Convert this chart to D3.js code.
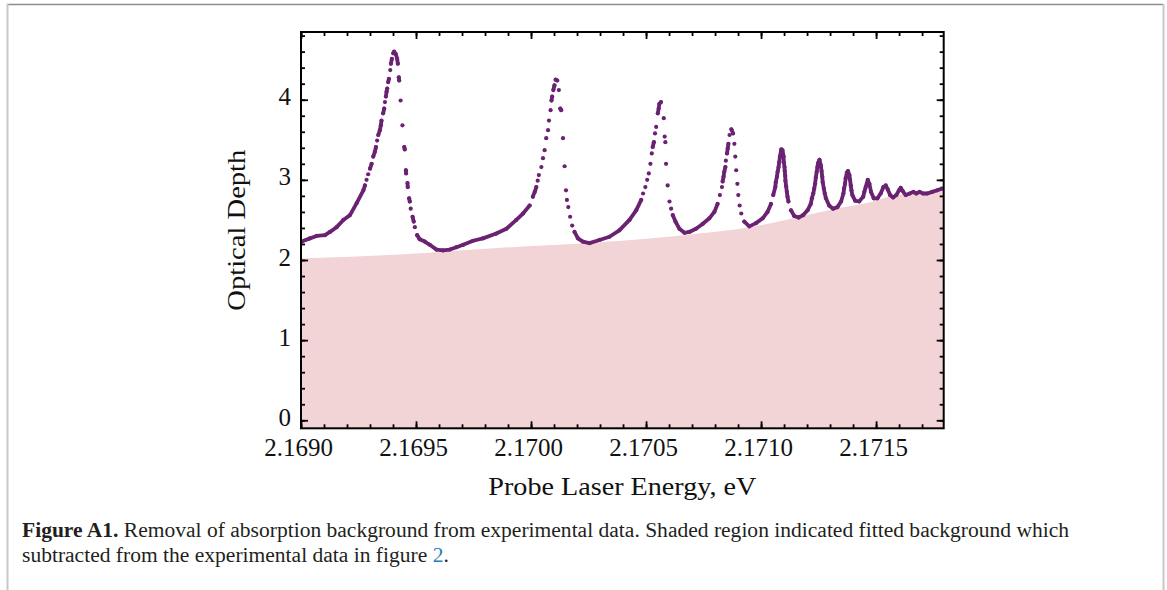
<!DOCTYPE html>
<html><head><meta charset="utf-8">
<script src="https://cdn.jsdelivr.net/npm/d3@7"></script>
<style>body{margin:0;background:#fff;} svg{display:block;}</style>
</head><body>
<svg id="chart" width="1167" height="590"></svg>
<script>
const energy = [
2.169003,2.169039,2.169068,2.169104,2.169126,2.169155,2.169184,2.169213,2.169242,2.169271,
2.169278,2.169285,2.169292,2.169300,2.169307,2.169314,2.169321,2.169326,2.169331,2.169336,
2.169343,2.169347,2.169350,2.169357,2.169362,2.169365,2.169369,2.169372,2.169375,2.169379,
2.169382,2.169388,2.169391,2.169395,2.169401,2.169405,2.169412,2.169418,2.169421,2.169425,
2.169427,2.169433,2.169441,2.169449,2.169451,2.169456,2.169457,2.169463,2.169464,2.169470,
2.169473,2.169477,2.169485,2.169490,2.169495,2.169505,2.169516,2.169538,2.169560,2.169589,
2.169618,2.169647,2.169676,2.169705,2.169748,2.169791,2.169849,2.169893,2.169936,2.169965,
2.169994,2.170008,2.170016,2.170023,2.170029,2.170034,2.170045,2.170052,2.170059,2.170066,
2.170074,2.170078,2.170085,2.170089,2.170092,2.170097,2.170102,2.170107,2.170114,2.170121,
2.170127,2.170131,2.170139,2.170146,2.170152,2.170156,2.170162,2.170170,2.170179,2.170189,
2.170204,2.170225,2.170254,2.170298,
2.170341,2.170384,2.170428,2.170457,2.170479,2.170487,2.170497,2.170505,2.170512,2.170519,
2.170525,2.170529,2.170534,2.170539,2.170544,2.170551,2.170555,2.170558,2.170565,2.170577,
2.170581,2.170584,2.170587,2.170594,2.170602,2.170609,2.170616,2.170628,2.170645,2.170667,
2.170688,2.170717,2.170746,2.170775,2.170797,2.170811,2.170821,2.170830,2.170833,2.170837,
2.170840,2.170845,2.170847,2.170852,2.170855,2.170858,2.170863,2.170871,2.170878,2.170884,
2.170888,2.170892,2.170897,2.170901,2.170907,2.170914,2.170927,2.170949,2.170978,2.171007,
2.171028,2.171043,2.171053,2.171062,2.171064,2.171069,2.171072,2.171076,2.171079,2.171082,
2.171088,2.171093,2.171098,2.171099,2.171102,2.171103,2.171105,2.171106,2.171109,2.171112,
2.171115,2.171119,2.171130,2.171144,2.171163,2.171183,2.171202,2.171216,2.171221,2.171227,
2.171231,2.171235,2.171238,2.171242,2.171245,2.171248,2.171254,2.171260,2.171263,2.171266,
2.171268,2.171273,2.171277,2.171282,2.171296,2.171313,2.171332,2.171348,2.171358,2.171361,
2.171365,2.171368,2.171373,2.171378,2.171384,2.171387,2.171390,2.171393,2.171397,2.171409,
2.171426,2.171444,2.171449,2.171455,2.171464,2.171471,2.171478,2.171490,2.171506,2.171520,
2.171532,2.171542,2.171551,2.171561,2.171574,2.171588,2.171600,2.171607,2.171616,2.171629,
2.171646,2.171662,2.171675,2.171689,2.171704,2.171723,2.171744,2.171766,2.171785
];
const depth = [
2.23,2.27,2.30,2.31,2.35,2.41,2.50,2.56,2.71,2.87,
2.93,3.00,3.07,3.14,3.20,3.29,3.35,3.41,3.49,3.56,
3.62,3.68,3.74,3.83,3.89,3.97,4.04,4.10,4.14,4.22,
4.26,4.37,4.45,4.51,4.58,4.60,4.57,4.51,4.45,4.28,
4.24,3.99,3.68,3.41,3.38,3.12,3.08,2.96,2.91,2.77,
2.73,2.64,2.54,2.48,2.41,2.31,2.26,2.23,2.19,2.13,
2.12,2.13,2.16,2.19,2.24,2.27,2.33,2.39,2.50,2.58,
2.68,2.79,2.85,2.91,2.99,3.06,3.16,3.27,3.37,3.52,
3.62,3.74,3.87,3.99,4.04,4.12,4.18,4.25,4.24,4.12,
3.89,3.87,3.52,3.17,2.87,2.75,2.66,2.54,2.43,2.35,
2.27,2.23,2.21,2.25,
2.29,2.37,2.50,2.62,2.75,2.83,2.91,3.00,3.08,3.20,
3.33,3.41,3.47,3.58,3.66,3.83,3.89,3.95,3.97,3.77,
3.54,3.47,3.20,2.93,2.73,2.64,2.56,2.48,2.39,2.34,
2.35,2.39,2.45,2.52,2.60,2.70,2.81,2.91,2.98,3.04,
3.10,3.16,3.24,3.33,3.39,3.45,3.56,3.63,3.58,3.45,
3.29,3.12,2.95,2.81,2.68,2.58,2.48,2.42,2.46,2.52,
2.60,2.70,2.81,2.91,2.97,3.04,3.10,3.16,3.22,3.29,
3.38,3.37,3.29,3.22,3.16,3.11,3.05,2.99,2.92,2.85,
2.79,2.73,2.62,2.55,2.53,2.56,2.62,2.70,2.77,2.83,
2.89,2.95,3.03,3.10,3.16,3.21,3.25,3.18,3.11,3.04,
2.97,2.89,2.83,2.77,2.68,2.64,2.66,2.73,2.83,2.89,
2.95,3.02,3.09,3.11,3.06,3.00,2.93,2.87,2.81,2.74,
2.73,2.79,2.85,2.91,3.00,2.95,2.85,2.77,2.77,2.83,
2.91,2.93,2.88,2.81,2.78,2.81,2.87,2.90,2.86,2.81,
2.83,2.85,2.83,2.85,2.83,2.83,2.85,2.87,2.89
];
// Fitted background (shaded)
const bgEnergy = [2.16900,2.16943,2.16986,2.17030,2.17073,2.17095,2.17117,2.17131,2.17146,2.17157,2.17180];
const bgDepth  = [2.02,2.07,2.15,2.22,2.33,2.41,2.54,2.63,2.71,2.80,2.87];

const xMajorTicks = [2.1690,2.1695,2.1700,2.1705,2.1710,2.1715];
const xTickLabels = ["2.1690","2.1695","2.1700","2.1705","2.1710","2.1715"];
const yMajorTicks = [0,1,2,3,4];
const yTickLabels = ["0","1","2","3","4"];
const xLabel = "Probe Laser Energy, eV";
const yLabel = "Optical Depth";

const svg = d3.select("#chart");
const L = 301, R = 943.7, T = 32, B = 428.3;
const x = d3.scaleLinear().domain([2.1690, 2.171794]).range([L, R]);
const y = d3.scaleLinear().domain([-0.1, 4.845]).range([B, T]);
const purple = "#6b2272", pink = "#f2d3d6";
const serif = "'Liberation Serif','Times New Roman',serif";

// page frame
svg.append("line").attr("x1",7).attr("x2",1163.5).attr("y1",4.5).attr("y2",4.5).attr("stroke","#8c8c8c").attr("stroke-width",1.5);
svg.append("line").attr("x1",7.5).attr("x2",7.5).attr("y1",4).attr("y2",590).attr("stroke","#c8c8c8").attr("stroke-width",2);
svg.append("line").attr("x1",1163.5).attr("x2",1163.5).attr("y1",4).attr("y2",590).attr("stroke","#c8c8c8").attr("stroke-width",2);

svg.append("defs").append("clipPath").attr("id","clip").append("rect")
  .attr("x",L).attr("y",T).attr("width",R-L).attr("height",B-T);
const plot = svg.append("g").attr("clip-path","url(#clip)");

// background area
const bg = bgEnergy.map((e,i)=>[e,bgDepth[i]]);
plot.append("path").datum(bg)
  .attr("d", d3.area().x(d=>x(d[0])).y0(y(-0.1)).y1(d=>y(d[1])).curve(d3.curveMonotoneX))
  .attr("fill", pink);

// data: line where points are dense, dots everywhere
const pts = energy.map((e,i)=>[x(e), y(depth[i])]);
const runs = [[pts[0]]];
for (let i=1;i<pts.length;i++){
  const dx = pts[i][0]-pts[i-1][0], dy = pts[i][1]-pts[i-1][1];
  const dist = Math.hypot(dx,dy);
  const maxD = energy[i] > 2.17105 ? 9 : 5.2;
  if (dist < maxD || Math.abs(dy) < 2.6*Math.abs(dx)) runs[runs.length-1].push(pts[i]);
  else runs.push([pts[i]]);
}
plot.selectAll("path.run").data(runs.filter(r=>r.length>1)).join("path")
  .attr("class","run").attr("d", d3.line()).attr("fill","none")
  .attr("stroke",purple).attr("stroke-width",3.8)
  .attr("stroke-linecap","round").attr("stroke-linejoin","round");
plot.selectAll("circle").data(pts).join("circle")
  .attr("cx",d=>d[0]).attr("cy",d=>d[1]).attr("r",2.1).attr("fill",purple);

// axes (ticks inward on all sides)
const xMinor = d3.range(21690, 21718).map(v=>v/10000);
const yMinor = d3.range(0, 25).map(v=>v/5);
function styleAxis(g){
  g.select(".domain").remove();
  g.selectAll(".tick line").attr("stroke","#000").attr("stroke-width",1.8);
}
svg.append("g").attr("transform",`translate(0,${B})`)
  .call(d3.axisBottom(x).tickValues(xMinor).tickSize(-4).tickFormat("")).call(styleAxis);
svg.append("g").attr("transform",`translate(0,${T})`)
  .call(d3.axisTop(x).tickValues(xMinor).tickSize(-4).tickFormat("")).call(styleAxis);
svg.append("g").attr("transform",`translate(${L},0)`)
  .call(d3.axisLeft(y).tickValues(yMinor).tickSize(-4).tickFormat("")).call(styleAxis);
svg.append("g").attr("transform",`translate(${R},0)`)
  .call(d3.axisRight(y).tickValues(yMinor).tickSize(-4).tickFormat("")).call(styleAxis);

const xb = svg.append("g").attr("transform",`translate(0,${B})`)
  .call(d3.axisBottom(x).tickValues(xMajorTicks).tickSize(-7).tickFormat((d,i)=>xTickLabels[i])).call(styleAxis);
xb.selectAll("text").attr("dy",null).attr("y",27.5).attr("x",-3)
  .attr("font-family",serif).attr("font-size",25).attr("fill","#111");
svg.append("g").attr("transform",`translate(0,${T})`)
  .call(d3.axisTop(x).tickValues(xMajorTicks).tickSize(-7).tickFormat("")).call(styleAxis);
const yl = svg.append("g").attr("transform",`translate(${L},0)`)
  .call(d3.axisLeft(y).tickValues(yMajorTicks).tickSize(-7).tickFormat((d,i)=>yTickLabels[i])).call(styleAxis);
yl.selectAll("text").attr("dy",null).attr("y",5).attr("x",-10)
  .attr("font-family",serif).attr("font-size",25).attr("fill","#111");
svg.append("g").attr("transform",`translate(${R},0)`)
  .call(d3.axisRight(y).tickValues(yMajorTicks).tickSize(-7).tickFormat("")).call(styleAxis);

// frame
svg.append("rect").attr("x",L).attr("y",T).attr("width",R-L).attr("height",B-T)
  .attr("fill","none").attr("stroke","#000").attr("stroke-width",2);

// axis titles
svg.append("text").attr("x",(L+R)/2).attr("y",495).attr("text-anchor","middle")
  .attr("font-family",serif).attr("font-size",26).attr("fill","#111")
  .attr("textLength",268).attr("lengthAdjust","spacingAndGlyphs").text(xLabel);
svg.append("text").attr("transform",`translate(245,${(T+B)/2}) rotate(-90)`).attr("text-anchor","middle")
  .attr("font-family",serif).attr("font-size",26).attr("fill","#111")
  .attr("textLength",161).attr("lengthAdjust","spacingAndGlyphs").text(yLabel);

// caption
const cap1 = svg.append("text").attr("x",22).attr("y",537).attr("font-family",serif).attr("font-size",20).attr("fill","#231f20");
cap1.append("tspan").attr("font-weight","bold").text("Figure A1.");
cap1.append("tspan").text(" Removal of absorption background from experimental data. Shaded region indicated fitted background which");
const cap2 = svg.append("text").attr("x",22).attr("y",562).attr("font-family",serif).attr("font-size",20).attr("fill","#231f20");
cap2.append("tspan").text("subtracted from the experimental data in figure ");
cap2.append("tspan").attr("fill","#2b7bb9").text("2");
cap2.append("tspan").text(".");
const w1 = cap1.node().getComputedTextLength(), w2 = cap2.node().getComputedTextLength();
const f = 1047 / w1;
cap1.attr("textLength",1047).attr("lengthAdjust","spacingAndGlyphs");
cap2.attr("textLength",w2*f).attr("lengthAdjust","spacingAndGlyphs");
</script>
</body></html>
